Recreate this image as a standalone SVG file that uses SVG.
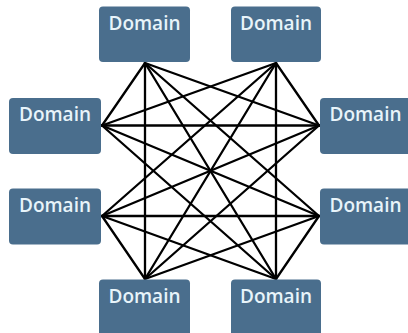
<svg xmlns="http://www.w3.org/2000/svg" width="408" height="333" viewBox="0 0 408 333">
<style>
.box{fill:#4a6e8d;}
.lbl{font-family:"Open Sans","Liberation Sans",sans-serif;font-size:19px;font-weight:600;fill:#e8f4fa;text-anchor:middle;}
.edge{stroke:#000;stroke-width:2.3;fill:none;stroke-linecap:round;}
</style>
<rect width="408" height="333" fill="#fff"/>
<g id="connectors">
<line class="edge" x1="145" y1="63" x2="102" y2="125.5"/>
<line class="edge" x1="145" y1="63" x2="145" y2="279"/>
<line class="edge" x1="145" y1="63" x2="319" y2="125.5"/>
<line class="edge" x1="145" y1="63" x2="319" y2="216"/>
<line class="edge" x1="145" y1="63" x2="276" y2="279"/>
<line class="edge" x1="276" y1="63" x2="102" y2="125.5"/>
<line class="edge" x1="276" y1="63" x2="102" y2="216"/>
<line class="edge" x1="276" y1="63" x2="319" y2="125.5"/>
<line class="edge" x1="276" y1="63" x2="145" y2="279"/>
<line class="edge" x1="276" y1="63" x2="276" y2="279"/>
<line class="edge" x1="102" y1="125.5" x2="319" y2="125.5"/>
<line class="edge" x1="102" y1="125.5" x2="319" y2="216"/>
<line class="edge" x1="102" y1="125.5" x2="276" y2="279"/>
<line class="edge" x1="102" y1="216" x2="319" y2="125.5"/>
<line class="edge" x1="102" y1="216" x2="319" y2="216"/>
<line class="edge" x1="102" y1="216" x2="145" y2="279"/>
<line class="edge" x1="102" y1="216" x2="276" y2="279"/>
<line class="edge" x1="319" y1="125.5" x2="145" y2="279"/>
<line class="edge" x1="319" y1="216" x2="145" y2="279"/>
<line class="edge" x1="319" y1="216" x2="276" y2="279"/>
</g>
<g id="node-top-left"><rect class="box" x="99" y="6.5" width="91" height="55.5" rx="4"/><text class="lbl" x="144.5" y="30">Domain</text></g>
<g id="node-top-right"><rect class="box" x="231" y="6.5" width="90" height="55.5" rx="4"/><text class="lbl" x="276" y="30">Domain</text></g>
<g id="node-left-top"><rect class="box" x="9" y="98" width="92" height="56" rx="4"/><text class="lbl" x="55" y="121">Domain</text></g>
<g id="node-right-top"><rect class="box" x="320" y="98" width="92" height="56" rx="4"/><text class="lbl" x="365.5" y="121">Domain</text></g>
<g id="node-left-bottom"><rect class="box" x="9" y="188.5" width="92" height="56" rx="4"/><text class="lbl" x="55" y="212">Domain</text></g>
<g id="node-right-bottom"><rect class="box" x="320" y="188.5" width="92" height="56" rx="4"/><text class="lbl" x="365.5" y="212">Domain</text></g>
<g id="node-bottom-left"><rect class="box" x="99" y="279.5" width="91" height="58" rx="4"/><text class="lbl" x="144.5" y="303">Domain</text></g>
<g id="node-bottom-right"><rect class="box" x="231" y="279.5" width="90" height="58" rx="4"/><text class="lbl" x="276" y="303">Domain</text></g>
</svg>
